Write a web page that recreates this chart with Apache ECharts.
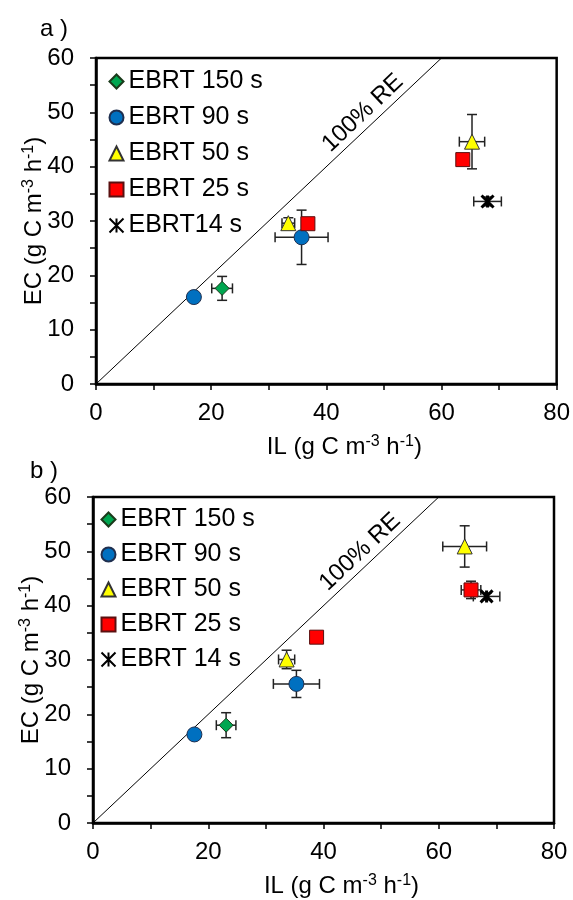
<!DOCTYPE html>
<html lang="en">
<head>
<meta charset="UTF-8">
<title>EC vs IL</title>
<script src="https://cdn.jsdelivr.net/npm/echarts@6/dist/echarts.min.js"></script>
<style>
    html, body { margin: 0; padding: 0; background: #fff; }
    #main { width: 573px; height: 900px; }
</style>
</head>
<body>
<div id="main"></div>
<script>
    // each point: [IL, EC, IL error, EC error]
    var namesA = ['EBRT 150 s', 'EBRT 90 s', 'EBRT 50 s', 'EBRT 25 s', 'EBRT14 s'];
    var a150 = [[21.9, 17.6, 1.8, 2.2]];
    var a90 = [[17.0, 16.0, 0.5, 0.5], [35.7, 27.0, 4.6, 5.0]];
    var a50 = [[33.4, 29.6, 1.1, 1.0], [65.3, 44.6, 2.2, 5.0]];
    var a25 = [[36.8, 29.5, 0.8, 0.8], [63.7, 41.3, 0.8, 0.8]];
    var a14 = [[68.0, 33.6, 2.4, 0.8]];

    var namesB = ['EBRT 150 s', 'EBRT 90 s', 'EBRT 50 s', 'EBRT 25 s', 'EBRT 14 s'];
    var b150 = [[23.1, 18.0, 1.7, 2.3]];
    var b90 = [[17.6, 16.3, 0.5, 0.8], [35.3, 25.6, 4.0, 2.5]];
    var b50 = [[33.6, 30.1, 1.4, 1.7], [64.5, 50.9, 3.8, 3.8]];
    var b25 = [[38.8, 34.2, 0.6, 0.8], [65.6, 42.9, 1.7, 1.6]];
    var b14 = [[68.3, 41.7, 2.3, 0.6]];

    var oneToOne = [[0, 0], [60, 60]];
    var reLabelSpan = [[36, 36], [60, 60]];
    var ilRange = [0, 80], ilStep = 20;
    var ecRange = [0, 60], ecStep = 10;

    var FONT = 'Liberation Sans, Arial, sans-serif';
    var marks = [
        {symbol: 'diamond', size: 14, color: '#00A650', border: '#1a3a1a'},
        {symbol: 'circle', size: 15, color: '#0070C0', border: '#1f2f4f'},
        {symbol: 'triangle', size: 15, color: '#FFFF00', border: '#333'},
        {symbol: 'rect', size: 14, color: '#FF0000', border: '#5a1010'},
        {symbol: 'path://M0,0L10,10M10,0L0,10M5,0L5,10', size: 12, color: 'none', border: '#000'}
    ];

    function scatter(name, data, k, gi) {
        var m = marks[k];
        return {
            type: 'scatter', name: name, data: data, xAxisIndex: gi, yAxisIndex: gi, z: 3,
            symbol: m.symbol, symbolSize: m.size,
            itemStyle: {color: m.color, borderColor: m.border, borderWidth: k === 4 ? 3 : 1, opacity: 1}
        };
    }

    function errorBars(data, gi) {
        return {
            type: 'custom', xAxisIndex: gi, yAxisIndex: gi, z: 2, silent: true,
            data: data, encode: {x: 0, y: 1},
            renderItem: function (params, api) {
                var x = api.value(0), y = api.value(1), ex = api.value(2), ey = api.value(3);
                var l = api.coord([x - ex, y]), r = api.coord([x + ex, y]);
                var t = api.coord([x, y + ey]), b = api.coord([x, y - ey]);
                var cap = 5;
                var st = {stroke: '#222', lineWidth: 1.5};
                function ln(x1, y1, x2, y2) {
                    return {type: 'line', shape: {x1: x1, y1: y1, x2: x2, y2: y2}, style: st};
                }
                return {type: 'group', children: [
                    ln(l[0], l[1], r[0], r[1]),
                    ln(l[0], l[1] - cap, l[0], l[1] + cap),
                    ln(r[0], r[1] - cap, r[0], r[1] + cap),
                    ln(t[0], t[1], b[0], b[1]),
                    ln(t[0] - cap, t[1], t[0] + cap, t[1]),
                    ln(b[0] - cap, b[1], b[0] + cap, b[1])
                ]};
            }
        };
    }

    // 1:1 line drawn as a line series, label carried by an invisible markLine on the upper part
    function diagonal(gi) {
        return {
            type: 'line', data: oneToOne, xAxisIndex: gi, yAxisIndex: gi, z: 1, silent: true,
            symbol: 'none', lineStyle: {color: '#000', width: 1},
            markLine: {
                silent: true, symbol: 'none', animation: false,
                lineStyle: {color: 'rgba(0,0,0,0)', width: 1},
                label: {show: true, formatter: '100% RE', position: 'insideMiddleTop', distance: [0, 2],
                    fontSize: 24, fontFamily: FONT, color: '#000'},
                data: [[{coord: reLabelSpan[0]}, {coord: reLabelSpan[1]}]]
            }
        };
    }

    var rich = {
        t: {fontSize: 24, fontFamily: FONT, color: '#000', lineHeight: 27},
        s: {fontSize: 16, fontFamily: FONT, color: '#000', verticalAlign: 'top', lineHeight: 27}
    };
    var ilName = '{t|IL (g C m}{s|-3}{t| h}{s|-1}{t|)}';
    var ecName = '{t|EC (g C m}{s|-3}{t| h}{s|-1}{t|)}';
    var tick = {color: '#000', width: 1.5};

    function xAx(gi) {
        return {
            type: 'value', gridIndex: gi, min: ilRange[0], max: ilRange[1], interval: ilStep,
            name: ilName, nameLocation: 'middle', nameGap: 50,
            nameTextStyle: {rich: rich, padding: [0, 0, 0, 36]},
            axisLine: {onZero: false, lineStyle: {color: '#000', width: 2.5}},
            axisTick: {length: 6, lineStyle: tick},
            minorTick: {show: true, splitNumber: 2, length: 6, lineStyle: tick},
            splitLine: {show: false},
            axisLabel: {fontSize: 24, fontFamily: FONT, color: '#000', margin: 17}
        };
    }
    function yAx(gi) {
        return {
            type: 'value', gridIndex: gi, min: ecRange[0], max: ecRange[1], interval: ecStep,
            name: ecName, nameLocation: 'middle', nameGap: 48, nameMoveOverlap: false,
            nameTextStyle: {rich: rich},
            axisLine: {onZero: false, lineStyle: {color: '#000', width: 2.5}},
            axisTick: {length: 6, lineStyle: tick},
            minorTick: {show: true, splitNumber: 2, length: 6, lineStyle: tick},
            splitLine: {show: false},
            axisLabel: {fontSize: 24, fontFamily: FONT, color: '#000', margin: 22}
        };
    }
    function legend(names, left, top, gap) {
        return {
            data: names, orient: 'vertical', left: left, top: top, padding: 0,
            itemWidth: 14, itemHeight: 14, itemGap: gap, selectedMode: false,
            textStyle: {fontSize: 25, fontFamily: FONT, color: '#000', lineHeight: 23}
        };
    }

    var setsA = [a150, a90, a50, a25, a14];
    var setsB = [b150, b90, b50, b25, b14];
    var series = [diagonal(0), diagonal(1),
        errorBars([].concat.apply([], setsA), 0), errorBars([].concat.apply([], setsB), 1)];
    setsA.forEach(function (d, k) { series.push(scatter(namesA[k], d, k, 0)); });
    setsB.forEach(function (d, k) { series.push(scatter(namesB[k], d, k, 1)); });

    var titleStyle = {fontSize: 24, fontWeight: 'normal', fontFamily: FONT, color: '#000'};

    echarts.init(document.getElementById('main')).setOption({
        animation: false,
        backgroundColor: '#fff',
        title: [
            {text: 'a )', left: 35, top: 12, textStyle: titleStyle},
            {text: 'b )', left: 25, top: 454, textStyle: titleStyle}
        ],
        grid: [
            {left: 96, top: 58, width: 463, height: 326, show: true, borderColor: '#000', borderWidth: 2.5},
            {left: 93, top: 497, width: 461, height: 326, show: true, borderColor: '#000', borderWidth: 2.5}
        ],
        xAxis: [xAx(0), xAx(1)],
        yAxis: [yAx(0), yAx(1)],
        legend: [legend(namesA, 107, 69, 11), legend(namesB, 99, 507, 10)],
        series: series
    });
</script>
</body>
</html>
